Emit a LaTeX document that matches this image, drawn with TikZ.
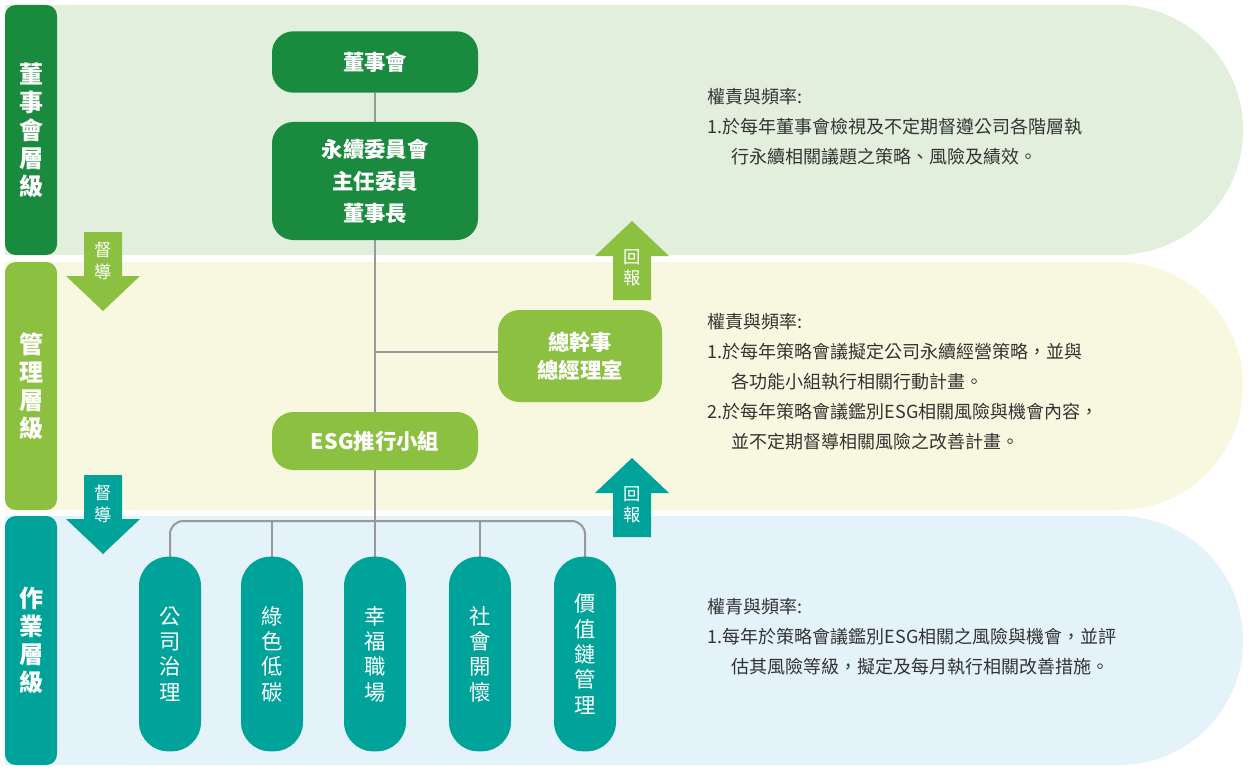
\documentclass[tikz,border=0pt]{standalone}
\usepackage{fontspec}
\setmainfont{Noto Sans CJK TC}
\usetikzlibrary{positioning}
\definecolor{dg}{HTML}{1A8A3E}
\definecolor{lg}{HTML}{8CC040}
\definecolor{tl}{HTML}{00A39A}
\definecolor{bgA}{HTML}{E1EFDC}
\definecolor{bgB}{HTML}{F8F8E0}
\definecolor{bgC}{HTML}{E4F2F9}
\definecolor{ln}{HTML}{999999}
\definecolor{tx}{HTML}{333333}
\tikzset{
  box/.style={rounded corners=16pt,text=white,font=\bfseries\fontsize{16}{21}\selectfont,align=center,inner sep=0},
  pill/.style={rounded corners=22pt,fill=tl,text=white,font=\fontsize{16}{19}\selectfont,align=center,minimum width=46.5pt,minimum height=146pt,inner sep=0},
  lab/.style={text=white,font=\bfseries\fontsize{18}{21}\selectfont,align=center},
  conn/.style={draw=ln,line width=1.5pt},
  desc/.style={anchor=north west,text=tx,font=\fontsize{13.5}{22.5}\selectfont,align=left},
  arrtxt/.style={text=white,font=\fontsize{13}{16}\selectfont,align=center}
}
\begin{document}
\begin{tikzpicture}[x=0.75pt,y=-0.75pt]
\useasboundingbox (0,0) rectangle (1248,770);
% bands
\fill[bgA,rounded corners=125*0.75pt] (5,5) -- (1243,5) -- (1243,255) -- (5,255) -- cycle;
\fill[bgA] (5,5) rectangle (200,255);
\fill[bgB,rounded corners=124*0.75pt] (5,262) -- (1243,262) -- (1243,510) -- (5,510) -- cycle;
\fill[bgB] (5,262) rectangle (200,510);
\fill[bgC,rounded corners=124*0.75pt] (5,516) -- (1243,516) -- (1243,765) -- (5,765) -- cycle;
\fill[bgC] (5,516) rectangle (200,765);
% level labels
\fill[dg,rounded corners=8pt] (5,5) rectangle (57,255);
\node[lab] (L1) at (31,130) {董\\事\\會\\層\\級};
\fill[lg,rounded corners=8pt] (5,262) rectangle (57,510);
\node[lab] (L2) at (31,386) {管\\理\\層\\級};
\fill[tl,rounded corners=8pt] (5,516) rectangle (57,765);
\node[lab] (L3) at (31,640) {作\\業\\層\\級};
% connectors
\coordinate (top) at (375,93);
\coordinate (bot) at (375,557);
\draw[conn] (top) -- (bot);
\draw[conn] (375,352) -- (498,352);
\draw[conn,rounded corners=10pt] (170,557) -- (170,521) -- (585,521) -- (585,557);
\draw[conn] (272,521) -- (272,557);
\draw[conn] (480,521) -- (480,557);
% main nodes
\node[box,fill=dg,minimum width=154.5pt,minimum height=46pt] (bod) at (375,62) {董事會};
\node[box,fill=dg,minimum width=154.5pt,minimum height=88.5pt,font=\bfseries\fontsize{16}{24}\selectfont] (com) at (375,181) {永續委員會\\主任委員\\董事長};
\node[box,fill=lg,minimum width=123pt,minimum height=69pt] (gm) at (580,356) {總幹事\\總經理室};
\node[box,fill=lg,minimum width=154.5pt,minimum height=43.5pt] (esg) at (375,441) {ESG推行小組};
% pills
\node[pill] (p1) at (170,654) {公\\司\\治\\理};
\node[pill] (p2) at (272,654) {綠\\色\\低\\碳};
\node[pill] (p3) at (375,654) {幸\\福\\職\\場};
\node[pill] (p4) at (480,654) {社\\會\\開\\懷};
\node[pill] (p5) at (585,654) {價\\值\\鏈\\管\\理};
% arrows
\fill[lg] (84,232) -- (122,232) -- (122,276) -- (140,276) -- (103,311) -- (66,276) -- (84,276) -- cycle;
\node[arrtxt] (a1) at (103,261) {督\\導};
\fill[tl] (84,475) -- (122,475) -- (122,519) -- (140,519) -- (103,554) -- (66,519) -- (84,519) -- cycle;
\node[arrtxt] (a2) at (103,504) {督\\導};
\fill[lg] (613,300) -- (651,300) -- (651,256) -- (669,256) -- (632,221) -- (595,256) -- (613,256) -- cycle;
\node[arrtxt] (a3) at (632,268) {回\\報};
\fill[tl] (613,537) -- (651,537) -- (651,493) -- (669,493) -- (632,458) -- (595,493) -- (613,493) -- cycle;
\node[arrtxt] (a4) at (632,505) {回\\報};
% descriptions
\node[desc] (d1) at (703,84) {權責與頻率:\\1.於每年董事會檢視及不定期督遵公司各階層執\\\hspace*{1.3em}行永續相關議題之策略、風險及績效。};
\node[desc] (d2) at (703,309) {權責與頻率:\\1.於每年策略會議擬定公司永續經營策略，並與\\\hspace*{1.3em}各功能小組執行相關行動計畫。\\2.於每年策略會議鑑別ESG相關風險與機會內容，\\\hspace*{1.3em}並不定期督導相關風險之改善計畫。};
\node[desc] (d3) at (703,594) {權青與頻率:\\1.每年於策略會議鑑別ESG相關之風險與機會，並評\\\hspace*{1.3em}估其風險等級，擬定及每月執行相關改善措施。};
\end{tikzpicture}
\end{document}
